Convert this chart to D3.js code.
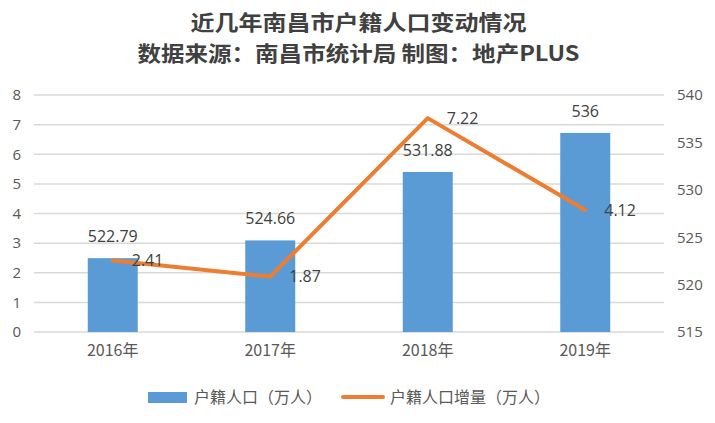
<!DOCTYPE html>
<html><head><meta charset="utf-8">
<script src="https://cdn.jsdelivr.net/npm/d3@7"></script>
<style>body{margin:0;background:#fff}svg{display:block}</style>
</head><body><div id="c"></div>
<script>
const categories = ["2016年","2017年","2018年","2019年"];
const population = [522.79, 524.66, 531.88, 536];
const increase = [2.41, 1.87, 7.22, 4.12];
const leftTicks = [0,1,2,3,4,5,6,7,8];
const rightTicks = [515,520,525,530,535,540];
const titleLines = ["近几年南昌市户籍人口变动情况","数据来源：南昌市统计局 制图：地产PLUS"];
const legendNames = ["户籍人口（万人）","户籍人口增量（万人）"];

const W=715,H=423;
const m={left:34,right:51,top:95,bottom:91};
const svg=d3.select("#c").append("svg").attr("width",W).attr("height",H);
const x=d3.scaleBand().domain(categories).range([m.left,W-m.right]).paddingInner(0).paddingOuter(0);
const yL=d3.scaleLinear().domain([0,8]).range([H-m.bottom,m.top]);
const yR=d3.scaleLinear().domain([515,540]).range([H-m.bottom,m.top]);
const numFont="'Open Sans', 'Noto Sans', sans-serif";
const cjk="'Noto Sans CJK SC', sans-serif";

// title
const titleWidths=[336,442];
svg.selectAll("text.title").data(titleLines).join("text")
  .attr("x",W/2+1).attr("y",(d,i)=>30+i*31).attr("text-anchor","middle")
  .attr("font-family",cjk).attr("font-weight","bold").attr("font-size",21)
  .attr("textLength",(d,i)=>titleWidths[i]).attr("lengthAdjust","spacingAndGlyphs")
  .attr("fill","#404040").text(d=>d);

// grid
svg.append("g").selectAll("line").data(leftTicks).join("line")
  .attr("x1",m.left).attr("x2",W-m.right)
  .attr("y1",d=>yL(d)).attr("y2",d=>yL(d))
  .attr("stroke","#D9D9D9").attr("stroke-width",1.5);

// left axis
const gL=svg.append("g").attr("transform",`translate(${m.left},0)`)
  .call(d3.axisLeft(yL).tickValues(leftTicks).tickSize(0).tickPadding(13));
gL.select(".domain").remove();
gL.selectAll("text").attr("font-family",numFont).attr("font-size",15).attr("fill","#595959");

// right axis
const gR=svg.append("g").attr("transform",`translate(${W-m.right},0)`)
  .call(d3.axisRight(yR).tickValues(rightTicks).tickSize(0).tickPadding(13));
gR.select(".domain").remove();
gR.selectAll("text").attr("font-family",numFont).attr("font-size",15).attr("fill","#595959");

// x axis
const gX=svg.append("g").attr("transform",`translate(0,${H-m.bottom})`)
  .call(d3.axisBottom(x).tickSize(0).tickPadding(13));
gX.select(".domain").remove();
gX.selectAll("text").attr("font-family",cjk).attr("font-size",16).attr("fill","#595959");

// bars
const bw=50;
svg.append("g").selectAll("rect").data(population).join("rect")
  .attr("x",(d,i)=>x(categories[i])+x.bandwidth()/2-bw/2)
  .attr("width",bw)
  .attr("y",d=>yR(d)).attr("height",d=>yR(515)-yR(d))
  .attr("fill","#5B9BD5");

// line
const line=d3.line().x((d,i)=>x(categories[i])+x.bandwidth()/2).y(d=>yL(d));
svg.append("path").datum(increase).attr("d",line)
  .attr("fill","none").attr("stroke","#ED7D31").attr("stroke-width",4)
  .attr("stroke-linejoin","round").attr("stroke-linecap","round");

// bar labels
svg.append("g").selectAll("text").data(population).join("text")
  .attr("x",(d,i)=>x(categories[i])+x.bandwidth()/2)
  .attr("y",d=>yR(d)-16).attr("text-anchor","middle")
  .attr("font-family",numFont).attr("font-size",16).attr("fill","#404040")
  .text(d=>d);

// line labels
svg.append("g").selectAll("text").data(increase).join("text")
  .attr("x",(d,i)=>x(categories[i])+x.bandwidth()/2+19)
  .attr("y",d=>yL(d)).attr("dy","0.35em")
  .attr("font-family",numFont).attr("font-size",16).attr("fill","#404040")
  .text(d=>d);

// legend
const lg=svg.append("g");
lg.append("rect").attr("x",148).attr("y",392).attr("width",39).attr("height",11).attr("fill","#5B9BD5");
lg.append("text").attr("x",194).attr("y",397).attr("dy","0.35em")
  .attr("font-family",cjk).attr("font-size",16).attr("fill","#595959").text(legendNames[0]);
lg.append("line").attr("x1",343).attr("x2",383).attr("y1",397).attr("y2",397)
  .attr("stroke","#ED7D31").attr("stroke-width",4).attr("stroke-linecap","round");
lg.append("text").attr("x",390).attr("y",397).attr("dy","0.35em")
  .attr("font-family",cjk).attr("font-size",16).attr("fill","#595959").text(legendNames[1]);
</script></body></html>
